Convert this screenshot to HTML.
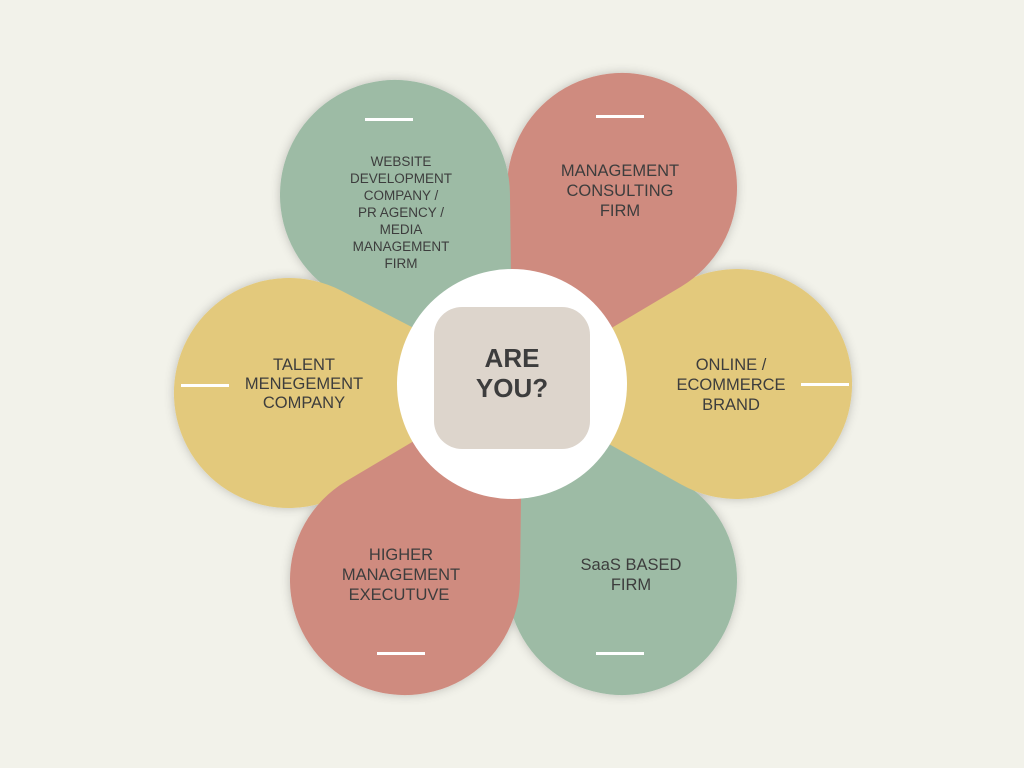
<!DOCTYPE html>
<html><head><meta charset="utf-8"><style>
html,body{margin:0;padding:0;background:#f2f2ea;}
svg{display:block}
text{font-family:"Liberation Sans",sans-serif;fill:#3d3d3d;text-anchor:middle;}
</style></head><body>
<svg width="1024" height="768" viewBox="0 0 1024 768">
<defs>
<path id="p" d="M -235 0 L -56 -100.4 A 115 115 0 1 1 -56 100.4 Z"/>
<filter id="sh" x="-30%" y="-30%" width="160%" height="160%"><feDropShadow dx="0" dy="0" stdDeviation="5" flood-color="#000" flood-opacity="0.22"/></filter>
</defs>
<rect width="1024" height="768" fill="#f2f2ea"/>
<g filter="url(#sh)">
<use href="#p" transform="translate(622,580) rotate(60)" fill="#9dbba5"/>
<use href="#p" transform="translate(737,384) rotate(0)" fill="#e3c97b"/>
<use href="#p" transform="translate(622,188) rotate(-60)" fill="#cf8b7f"/>
<use href="#p" transform="translate(395,195) rotate(-120)" fill="#9dbba5"/>
<use href="#p" transform="translate(289,393) rotate(178)" fill="#e3c97b"/>
<use href="#p" transform="translate(405,580) rotate(120)" fill="#cf8b7f"/>
</g>
<circle cx="512" cy="384" r="115" fill="#fff"/>
<rect x="434" y="307" width="156" height="142" rx="28" fill="#ddd5cc"/>
<text x="512" y="367" font-size="26" font-weight="bold">ARE</text>
<text x="512" y="397" font-size="26" font-weight="bold">YOU?</text>
<g fill="#fff">
<rect x="365" y="118" width="48" height="3"/>
<rect x="596" y="115" width="48" height="3"/>
<rect x="801" y="383" width="48" height="3"/>
<rect x="596" y="652" width="48" height="3"/>
<rect x="377" y="652" width="48" height="3"/>
<rect x="181" y="384" width="48" height="3"/>
</g>
<g font-size="13.5">
<text x="401" y="166">WEBSITE</text>
<text x="401" y="183">DEVELOPMENT</text>
<text x="401" y="200">COMPANY /</text>
<text x="401" y="217">PR AGENCY /</text>
<text x="401" y="234">MEDIA</text>
<text x="401" y="251">MANAGEMENT</text>
<text x="401" y="268">FIRM</text>
</g>
<g font-size="16.5">
<text x="620" y="176">MANAGEMENT</text>
<text x="620" y="196">CONSULTING</text>
<text x="620" y="216">FIRM</text>
<text x="731" y="370">ONLINE /</text>
<text x="731" y="390">ECOMMERCE</text>
<text x="731" y="410">BRAND</text>
<text x="631" y="570">SaaS BASED</text>
<text x="631" y="590">FIRM</text>
<text x="401" y="560">HIGHER</text>
<text x="401" y="580">MANAGEMENT</text>
<text x="399" y="600">EXECUTUVE</text>
<text x="304" y="370">TALENT</text>
<text x="304" y="389">MENEGEMENT</text>
<text x="304" y="408">COMPANY</text>
</g>
</svg>
</body></html>
